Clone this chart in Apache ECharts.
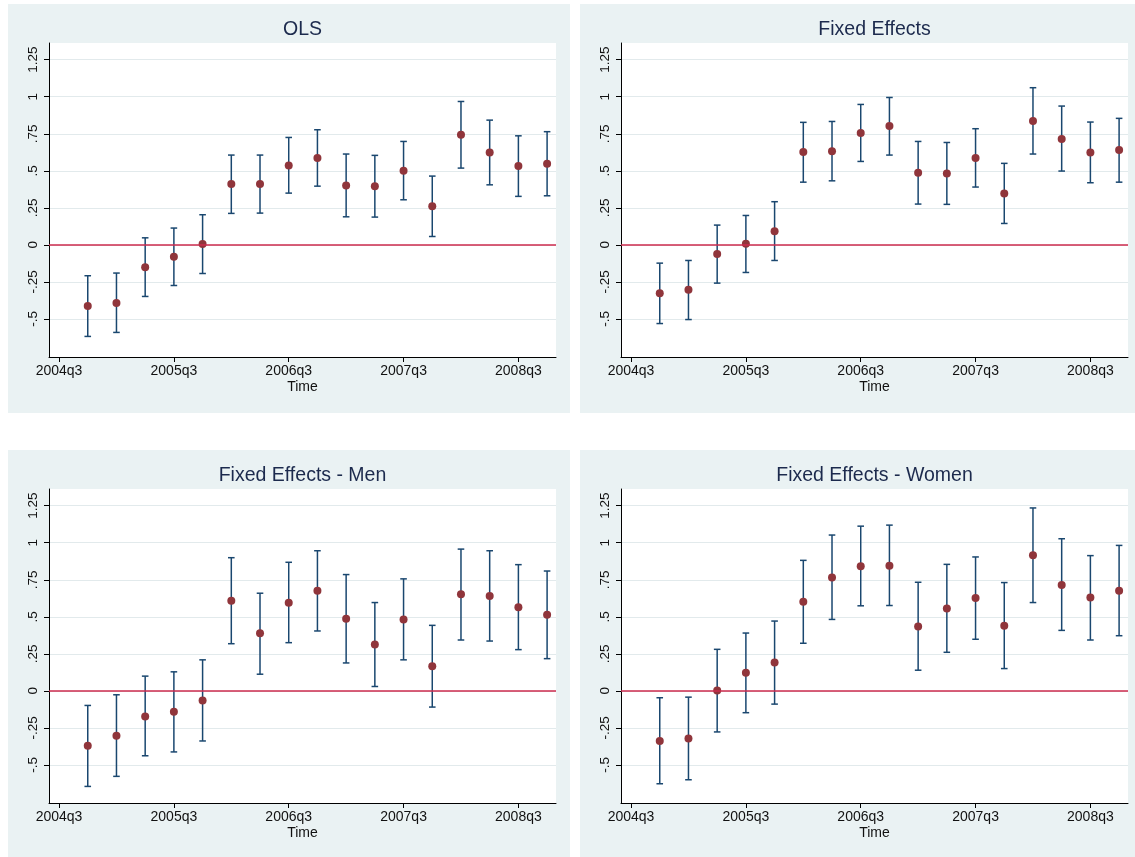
<!DOCTYPE html>
<html>
<head>
<meta charset="utf-8">
<script src="https://cdn.jsdelivr.net/npm/echarts@6/dist/echarts.min.js"></script>
<style>
  html, body { margin: 0; padding: 0; background: #ffffff; }
  #chart { width: 1135px; height: 857px; }
</style>
</head>
<body>
<div id="chart"></div>
<script>
// ---------------- data ----------------
const panelTitles = ['OLS', 'Fixed Effects', 'Fixed Effects - Men', 'Fixed Effects - Women'];
const quarters = ['2004q4','2005q1','2005q2','2005q3','2005q4','2006q1','2006q2','2006q3','2006q4',
                  '2007q1','2007q2','2007q3','2007q4','2008q1','2008q2','2008q3','2008q4'];
const xTickLabels = ['2004q3','2005q3','2006q3','2007q3','2008q3'];
const yTicks = [-0.5, -0.25, 0, 0.25, 0.5, 0.75, 1, 1.25];
const xAxisTitle = 'Time';

const olsCoef = [-0.414,-0.394,-0.151,-0.081,0.005,0.410,0.410,0.536,0.586,0.401,0.396,0.500,0.261,0.743,0.624,0.532,0.547];
const olsLo   = [-0.619,-0.592,-0.349,-0.275,-0.194,0.212,0.214,0.349,0.396,0.189,0.187,0.304,0.056,0.518,0.405,0.327,0.331];
const olsHi   = [-0.209,-0.191,0.047,0.113,0.203,0.606,0.606,0.725,0.777,0.613,0.604,0.698,0.464,0.968,0.842,0.736,0.764];

const feCoef = [-0.327,-0.304,-0.063,0.007,0.092,0.626,0.631,0.755,0.802,0.486,0.482,0.586,0.347,0.836,0.714,0.624,0.640];
const feLo   = [-0.532,-0.505,-0.259,-0.187,-0.106,0.423,0.432,0.563,0.606,0.275,0.273,0.390,0.144,0.613,0.498,0.419,0.423];
const feHi   = [-0.124,-0.106,0.133,0.198,0.291,0.827,0.833,0.948,0.995,0.698,0.691,0.784,0.550,1.061,0.937,0.829,0.854];

const menCoef = [-0.372,-0.303,-0.173,-0.141,-0.065,0.608,0.388,0.594,0.675,0.487,0.312,0.482,0.166,0.652,0.641,0.565,0.513];
const menLo   = [-0.646,-0.578,-0.439,-0.413,-0.339,0.318,0.112,0.325,0.404,0.188,0.029,0.209,-0.110,0.343,0.336,0.278,0.217];
const menHi   = [-0.099,-0.027,0.099,0.128,0.209,0.899,0.659,0.868,0.946,0.785,0.596,0.756,0.442,0.957,0.946,0.852,0.809];

const womenCoef = [-0.339,-0.323,0.002,0.121,0.191,0.601,0.765,0.841,0.845,0.435,0.556,0.626,0.439,0.915,0.715,0.630,0.675];
const womenLo   = [-0.628,-0.601,-0.278,-0.148,-0.090,0.321,0.482,0.574,0.576,0.139,0.260,0.348,0.150,0.596,0.408,0.343,0.372];
const womenHi   = [-0.047,-0.043,0.280,0.390,0.471,0.881,1.052,1.112,1.119,0.733,0.854,0.904,0.731,1.235,1.027,0.913,0.982];

// ---------------- helpers ----------------
function qIndex(s) {            // quarters since 2004q3
  const y = parseInt(s.slice(0, 4), 10), q = parseInt(s.slice(5), 10);
  return (y - 2004) * 4 + (q - 3);
}
function stataNum(v) {
  if (Math.abs(v) < 1e-9) return '0';
  return String(v).replace(/^(-?)0\./, '$1.');
}

const panels = [
  { coef: olsCoef, lo: olsLo, hi: olsHi },
  { coef: feCoef, lo: feLo, hi: feHi },
  { coef: menCoef, lo: menLo, hi: menHi },
  { coef: womenCoef, lo: womenLo, hi: womenHi }
];

// layout
const plotW = 507, plotH = 314;
const gridPos = [
  { left: 49, top: 43 }, { left: 621, top: 43 },
  { left: 49, top: 489 }, { left: 621, top: 489 }
];
const panelRects = [
  { x: 8, y: 4, w: 562, h: 409 }, { x: 580, y: 4, w: 562, h: 409 },
  { x: 8, y: 450, w: 562, h: 409 }, { x: 580, y: 450, w: 562, h: 409 }
];

const PANEL_BG = '#eaf2f3';
const GRID_LINE = '#e2eaec';
const NAVY = '#1a476f';
const MAROON = '#90353b';
const ZERO_RED = '#cc2b4e';
const FONT = '"Liberation Sans", Arial, Helvetica, sans-serif';

const xTickVals = xTickLabels.map(qIndex);
const xLabelMap = {};
xTickLabels.forEach(s => { xLabelMap[qIndex(s)] = s; });

const grids = [], xAxes = [], yAxes = [], series = [], graphics = [];

panelRects.forEach(r => {
  graphics.push({ type: 'rect', z: -100, silent: true,
    shape: { x: r.x, y: r.y, width: r.w, height: r.h },
    style: { fill: PANEL_BG } });
});

panels.forEach((p, i) => {
  const g = gridPos[i];
  grids.push({ left: g.left, top: g.top, width: plotW, height: plotH,
    show: true, backgroundColor: '#ffffff', borderWidth: 0, containLabel: false });

  graphics.push({ type: 'text', silent: true,
    x: g.left + plotW / 2, y: g.top - 13,
    style: { text: panelTitles[i], font: '19.5px ' + FONT, fill: '#1c2a4d',
             textAlign: 'center', textVerticalAlign: 'middle' } });

  xAxes.push({
    gridIndex: i, type: 'value', min: -0.35, max: 17.31,
    name: xAxisTitle, nameLocation: 'middle', nameGap: 23,
    nameTextStyle: { fontFamily: FONT, fontSize: 14, color: '#111' },
    axisLine: { show: true, onZero: false, lineStyle: { color: '#000', width: 1 } },
    axisTick: { show: true, length: 5, customValues: xTickVals, lineStyle: { color: '#000' } },
    axisLabel: { show: true, margin: 7, customValues: xTickVals, fontFamily: FONT, fontSize: 14, color: '#111',
      formatter: v => xLabelMap[Math.round(v)] || '' },
    splitLine: { show: false }
  });

  yAxes.push({
    gridIndex: i, type: 'value', min: -0.758, max: 1.363,
    axisLine: { show: true, onZero: false, lineStyle: { color: '#000', width: 1 } },
    axisTick: { show: true, length: 5, customValues: yTicks, lineStyle: { color: '#000' } },
    axisLabel: { show: true, rotate: 90, margin: 9, customValues: yTicks, fontFamily: FONT, fontSize: 13.5, color: '#111',
      formatter: v => stataNum(v) },
    splitLine: { show: true, lineStyle: { color: GRID_LINE, width: 1.2 } }
  });

  const barData = quarters.map((q, k) => [qIndex(q), p.lo[k], p.hi[k]]);
  series.push({
    type: 'custom', xAxisIndex: i, yAxisIndex: i, z: 3, silent: true,
    data: barData,
    renderItem: function (params, api) {
      const x = api.value(0);
      const a = api.coord([x, api.value(1)]);
      const b = api.coord([x, api.value(2)]);
      const c = 3.3;
      const st = { stroke: NAVY, lineWidth: 1.5 };
      return { type: 'group', children: [
        { type: 'line', shape: { x1: a[0], y1: a[1], x2: b[0], y2: b[1] }, style: st },
        { type: 'line', shape: { x1: a[0] - c, y1: a[1], x2: a[0] + c, y2: a[1] }, style: st },
        { type: 'line', shape: { x1: b[0] - c, y1: b[1], x2: b[0] + c, y2: b[1] }, style: st }
      ] };
    }
  });

  series.push({
    type: 'scatter', xAxisIndex: i, yAxisIndex: i, z: 4, silent: true,
    symbol: 'circle', symbolSize: 8,
    itemStyle: { color: MAROON, opacity: 1 },
    data: quarters.map((q, k) => [qIndex(q), p.coef[k]]),
    markLine: {
      silent: true, symbol: ['none', 'none'], label: { show: false }, animation: false,
      lineStyle: { color: ZERO_RED, width: 1.5, type: 'solid' },
      data: [{ yAxis: 0 }]
    }
  });
});

const chart = echarts.init(document.getElementById('chart'), null, { renderer: 'canvas' });
chart.setOption({
  animation: false,
  backgroundColor: '#ffffff',
  grid: grids,
  xAxis: xAxes,
  yAxis: yAxes,
  series: series,
  graphic: { elements: graphics }
});
</script>
</body>
</html>
